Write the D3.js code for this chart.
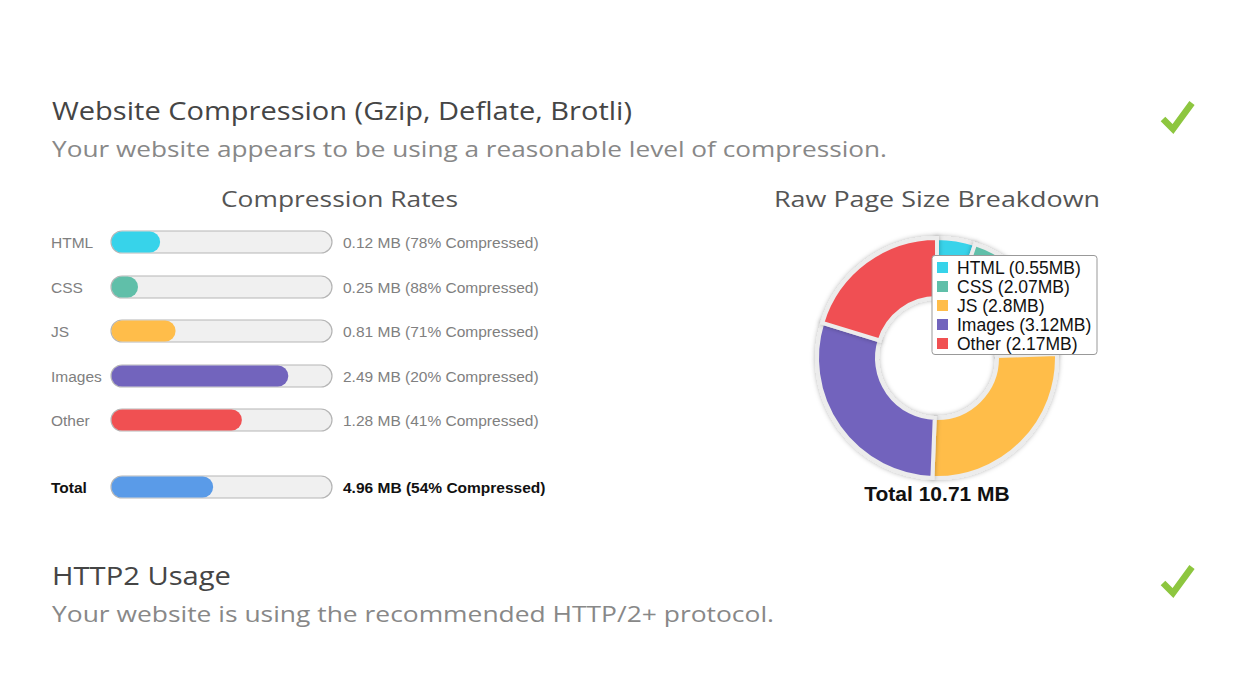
<!DOCTYPE html>
<html><head><meta charset="utf-8">
<script src="https://cdn.jsdelivr.net/npm/d3@7"></script>
<style>
html,body{margin:0;padding:0;background:#fff;}
svg{display:block;}
</style></head>
<body>
<svg id="c" width="1246" height="692"></svg>
<script>
// ---- data ----
const barCategories = ["HTML", "CSS", "JS", "Images", "Other"];
const barSizesMB = ["0.12", "0.25", "0.81", "2.49", "1.28"];
const barCompressedPct = [78, 88, 71, 20, 41];
const totalLabel = "Total";
const totalSizeMB = "4.96";
const totalCompressedPct = 54;

const donutCategories = ["HTML", "CSS", "JS", "Images", "Other"];
const donutValuesMB = [0.55, 2.07, 2.8, 3.12, 2.17];
const donutTotalMB = "10.71";

const colors = ["#37d3ea", "#60bfa9", "#ffbd4a", "#7264bd", "#f05052"];
const totalColor = "#5a9be8";

const svg = d3.select("#c");
const headFont = "'Open Sans', Lato, sans-serif";
const arial = "'Liberation Sans', Arial, sans-serif";

function fitText(sel, w) {
  sel.attr("textLength", w).attr("lengthAdjust", "spacingAndGlyphs");
}

// ---- headings ----
svg.append("text").attr("x", 52).attr("y", 120).attr("font-family", headFont)
  .attr("font-size", 25).attr("fill", "#454545")
  .text("Website Compression (Gzip, Deflate, Brotli)").call(fitText, 580);
svg.append("text").attr("x", 52).attr("y", 157).attr("font-family", headFont)
  .attr("font-size", 22).attr("fill", "#888")
  .text("Your website appears to be using a reasonable level of compression.").call(fitText, 835);
svg.append("text").attr("x", 221).attr("y", 207).attr("font-family", headFont)
  .attr("font-size", 21.5).attr("fill", "#555")
  .text("Compression Rates").call(fitText, 237);
svg.append("text").attr("x", 774).attr("y", 207).attr("font-family", headFont)
  .attr("font-size", 21.5).attr("fill", "#555")
  .text("Raw Page Size Breakdown").call(fitText, 326);
svg.append("text").attr("x", 52).attr("y", 585).attr("font-family", headFont)
  .attr("font-size", 25).attr("fill", "#454545")
  .text("HTTP2 Usage").call(fitText, 179);
svg.append("text").attr("x", 52).attr("y", 622).attr("font-family", headFont)
  .attr("font-size", 22).attr("fill", "#888")
  .text("Your website is using the recommended HTTP/2+ protocol.").call(fitText, 722);

// check marks
function check(y0) {
  svg.append("path")
    .attr("d", `M1163,${y0 + 18} L1173,${y0 + 28} L1192,${y0 + 2}`)
    .attr("fill", "none").attr("stroke", "#8dc63f").attr("stroke-width", 6.5)
    .attr("stroke-linecap", "butt").attr("stroke-linejoin", "miter");
}
check(101);
check(565);

// ---- bars ----
const rows = barCategories.map((c, i) => ({
  label: c, size: barSizesMB[i], pct: barCompressedPct[i], color: colors[i], bold: false
}));
rows.push({ label: totalLabel, size: totalSizeMB, pct: totalCompressedPct, color: totalColor, bold: true });

const yBand = d3.scaleOrdinal()
  .domain(rows.map(r => r.label))
  .range([242, 287, 331, 376, 420, 487]);
const x = d3.scaleLinear().domain([0, 100]).range([0, 221]);
const barX = 111, barH = 22;

const g = svg.append("g");
rows.forEach(r => {
  const cy = yBand(r.label);
  g.append("rect").attr("x", barX).attr("y", cy - barH / 2)
    .attr("width", x(100)).attr("height", barH).attr("rx", barH / 2)
    .attr("fill", "#f0f0f0").attr("stroke", "#b5b5b5").attr("stroke-width", 1.2);
  g.append("rect").attr("x", barX + 0.5).attr("y", cy - barH / 2 + 0.5)
    .attr("width", x(100 - r.pct)).attr("height", barH - 1).attr("rx", (barH - 1) / 2)
    .attr("fill", r.color);
  g.append("text").attr("x", 51).attr("y", cy + 6)
    .attr("font-family", arial).attr("font-size", 15.5)
    .attr("font-weight", r.bold ? "bold" : "normal")
    .attr("fill", r.bold ? "#111" : "#808080").text(r.label);
  g.append("text").attr("x", 343).attr("y", cy + 6)
    .attr("font-family", arial).attr("font-size", 15.5)
    .attr("font-weight", r.bold ? "bold" : "normal")
    .attr("fill", r.bold ? "#111" : "#808080")
    .text(`${r.size} MB (${r.pct}% Compressed)`);
});

// ---- donut ----
const defs = svg.append("defs");
const f = defs.append("filter").attr("id", "sh").attr("x", "-20%").attr("y", "-20%")
  .attr("width", "140%").attr("height", "140%");
f.append("feDropShadow").attr("dx", 0).attr("dy", 0).attr("stdDeviation", 2.5)
  .attr("flood-color", "#000").attr("flood-opacity", 0.3);

const cx = 937, cyD = 358;
const pie = d3.pie().sort(null).value(d => d)(donutValuesMB);
const arc = d3.arc().innerRadius(60).outerRadius(120);
const dg = svg.append("g").attr("transform", `translate(${cx},${cyD})`);
dg.selectAll("path").data(pie).join("path")
  .attr("d", arc).attr("fill", (d, i) => colors[i])
  .attr("stroke", "#ececec").attr("stroke-width", 4)
  .attr("filter", "url(#sh)");

svg.append("text").attr("x", cx).attr("y", 501).attr("text-anchor", "middle")
  .attr("font-family", arial).attr("font-size", 21).attr("font-weight", "bold")
  .attr("fill", "#111").text(`Total ${donutTotalMB} MB`);

// legend
const lg = svg.append("g");
lg.append("rect").attr("x", 932).attr("y", 255.5).attr("width", 165).attr("height", 99)
  .attr("rx", 3).attr("fill", "#fff").attr("stroke", "#999").attr("stroke-width", 1);
const ly = d3.scaleBand().domain(donutCategories).range([258, 353]);
donutCategories.forEach((c, i) => {
  const yy = ly(c);
  lg.append("rect").attr("x", 937).attr("y", yy + 4).attr("width", 11).attr("height", 11)
    .attr("fill", colors[i]);
  lg.append("text").attr("x", 957).attr("y", yy + 15.5)
    .attr("font-family", arial).attr("font-size", 17.5).attr("fill", "#111")
    .text(`${c} (${donutValuesMB[i]}MB)`);
});
</script>
</body></html>
